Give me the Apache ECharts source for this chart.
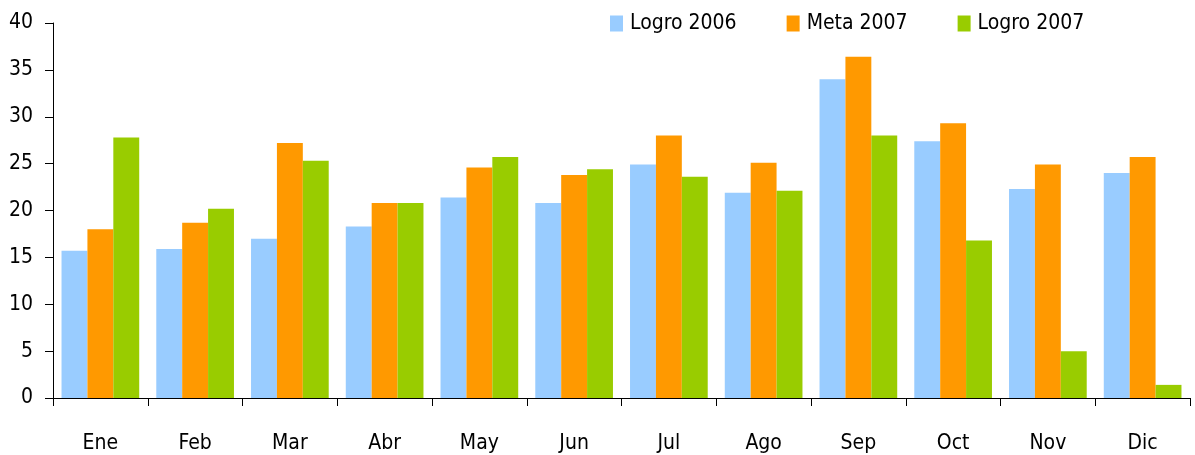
<!DOCTYPE html>
<html>
<head>
<meta charset="utf-8">
<script src="https://cdn.jsdelivr.net/npm/echarts@6/dist/echarts.min.js"></script>
<style>
  html, body { margin: 0; padding: 0; background: #fff; }
  #chart { width: 1195px; height: 455px; }
</style>
</head>
<body>
<div id="chart"></div>
<script>
// Monthly figures: 2006 achievement, 2007 target, 2007 achievement
const months = ['Ene', 'Feb', 'Mar', 'Abr', 'May', 'Jun', 'Jul', 'Ago', 'Sep', 'Oct', 'Nov', 'Dic'];
const logro2006 = [15.7, 15.9, 17.0, 18.3, 21.4, 20.8, 24.9, 21.9, 34.0, 27.4, 22.3, 24.0];
const meta2007  = [18.0, 18.7, 27.2, 20.8, 24.6, 23.8, 28.0, 25.1, 36.4, 29.3, 24.9, 25.7];
const logro2007 = [27.8, 20.2, 25.3, 20.8, 25.7, 24.4, 23.6, 22.1, 28.0, 16.8, 5.0, 1.4];
const seriesNames = ['Logro 2006', 'Meta 2007', 'Logro 2007'];
const seriesColors = ['#99CCFF', '#FF9900', '#99CC00'];

const FONT = '"DejaVu Sans Condensed", "DejaVu Sans", sans-serif';
const FONT_SIZE = 21;

const chart = echarts.init(document.getElementById('chart'), null, { renderer: 'canvas' });

const makeBar = (name, data, color) => ({
  name: name,
  type: 'bar',
  data: data,
  barGap: '0%',
  barCategoryGap: '18%',
  itemStyle: { color: color },
  emphasis: { disabled: true },
  animation: false
});

chart.setOption({
  animation: false,
  backgroundColor: '#ffffff',
  textStyle: { fontFamily: FONT },
  grid: { left: 53, right: 5, top: 23, bottom: 57, containLabel: false },
  legend: {
    left: 610,
    top: 13,
    padding: 0,
    itemWidth: 13,
    itemHeight: 16,
    itemGap: 50,
    icon: 'rect',
    textStyle: { fontFamily: FONT, fontSize: FONT_SIZE, color: '#000', padding: [0, 0, 0, 2] },
    data: seriesNames
  },
  xAxis: {
    type: 'category',
    data: months,
    boundaryGap: true,
    axisLine: { show: true, lineStyle: { color: '#000', width: 1 } },
    axisTick: { show: true, alignWithLabel: false, length: 8, lineStyle: { color: '#000' } },
    axisLabel: { fontFamily: FONT, fontSize: FONT_SIZE, color: '#000', margin: 35 },
    splitLine: { show: false }
  },
  yAxis: {
    type: 'value',
    min: 0,
    max: 40,
    interval: 5,
    axisLine: { show: true, lineStyle: { color: '#000', width: 1 } },
    axisTick: { show: true, length: 8, lineStyle: { color: '#000' } },
    axisLabel: { fontFamily: FONT, fontSize: FONT_SIZE, color: '#000', margin: 20 },
    splitLine: { show: false }
  },
  series: [
    makeBar(seriesNames[0], logro2006, seriesColors[0]),
    makeBar(seriesNames[1], meta2007, seriesColors[1]),
    makeBar(seriesNames[2], logro2007, seriesColors[2])
  ]
});
</script>
</body>
</html>
